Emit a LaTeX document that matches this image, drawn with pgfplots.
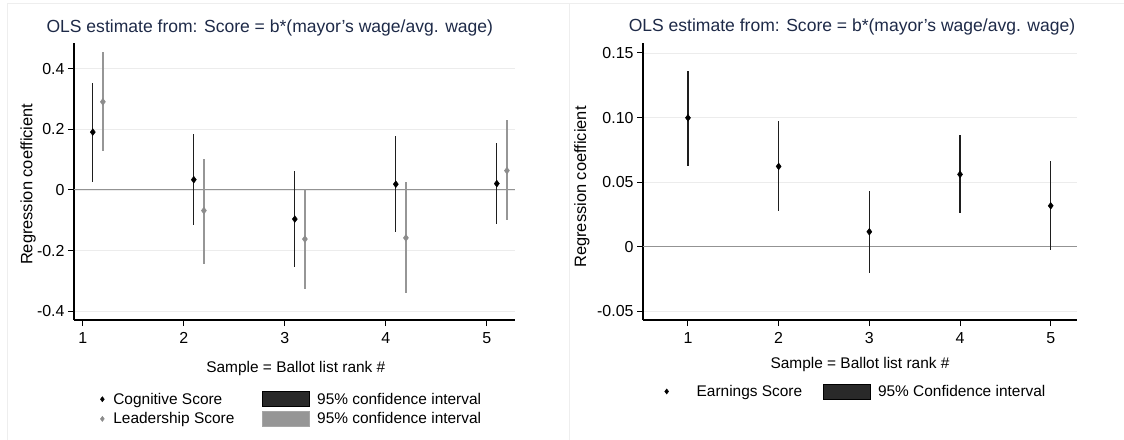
\documentclass[border=0pt]{standalone}
\usepackage{fontspec}
\setmainfont{Liberation Sans}
\usepackage{pgfplots}
\usepackage{pgfplotstable}
\pgfplotsset{compat=1.18}
\definecolor{titlecol}{RGB}{30,42,72}
\definecolor{cogci}{RGB}{30,30,30}
\definecolor{leadmk}{RGB}{140,140,140}
\definecolor{leadci}{RGB}{150,150,150}
\definecolor{gridc}{RGB}{236,236,236}
\definecolor{framec}{RGB}{238,238,238}

\pgfplotstableread{
x y lo hi
1.1 0.191 0.027 0.353
2.1 0.034 -0.116 0.184
3.1 -0.096 -0.253 0.064
4.1 0.019 -0.140 0.177
5.1 0.021 -0.111 0.154
}\cog
\pgfplotstableread{
x y lo hi
1.2 0.291 0.129 0.456
2.2 -0.068 -0.244 0.103
3.2 -0.162 -0.328 0.003
4.2 -0.158 -0.341 0.027
5.2 0.064 -0.099 0.231
}\lead
\pgfplotstableread{
x y lo hi
1 0.0998 0.0627 0.136
2 0.0622 0.0279 0.0973
3 0.0116 -0.0206 0.0433
4 0.056 0.0258 0.0865
5 0.0317 -0.0026 0.066
}\earn

\pgfplotsset{
  stata/.style={
    scale only axis,
    anchor=south west,
    axis x line*=bottom, axis y line*=left,
    axis line style={line width=1.2bp, black},
    tick align=outside, major tick length=6bp,
    tick style={line width=1bp, black},
    ymajorgrids, grid style={line width=0.8bp, gridc},
    tick label style={font=\fontsize{16}{19}\selectfont},
    x tick label style={yshift=-3bp},
    xtick={1,2,3,4,5}, xticklabels={1,2,3,4,5},
    title style={font=\fontsize{17.6}{21}\selectfont, text=titlecol, anchor=center, yshift=0pt},
    xlabel style={font=\fontsize{15.5}{18}\selectfont, anchor=center},
    ylabel style={font=\fontsize{16.5}{19}\selectfont, anchor=center},
    legend style={draw=none, fill=none, font=\fontsize{15.5}{18}\selectfont, row sep=3bp,
      /tikz/every odd column/.append style={column sep=5bp}},
    legend cell align=left,
    clip=false,
  },
  cipl/.style={only marks, mark=diamond*, mark size=3.4bp,
    error bars/.cd, y dir=both, y explicit, error mark=none},
}

\begin{document}
\begin{tikzpicture}
\path[use as bounding box, fill=white] (0,0) rectangle (1124bp,440bp);
\draw[framec, line width=1bp] (7bp,0) -- (7bp,436bp) -- (1124bp,436bp);
\draw[framec, line width=1bp] (569bp,0) -- (569bp,436bp);

\begin{axis}[stata,
  at={(74bp,120bp)}, width=441bp, height=277bp,
  xmin=0.914, xmax=5.28, ymin=-0.429, ymax=0.485,
  ytick={-0.4,-0.2,0,0.2,0.4}, yticklabels={-0.4,-0.2,0,0.2,0.4},
  title={OLS estimate from: Score = b*(mayor's wage/avg. wage)},
  title style={at={(axis description cs:0.444,1.032)}},
  xlabel={Sample = Ballot list rank \#},
  xlabel style={at={(axis description cs:0.503,-0.176)}},
  ylabel={Regression coefficient},
  ylabel style={at={(axis description cs:-0.104,0.49)}},
  legend columns=2,
  legend style={at={(axis description cs:0.048,-0.248)}, anchor=north west,
    /tikz/every even column/.append style={column sep=26bp}},
]
\addplot[forget plot, line width=1bp, gray!85] coordinates {(0.914,0) (5.28,0)};
\addplot[forget plot, black, cipl, error bar style={line width=1.3bp, cogci}]
  table[x=x, y=y, y error plus expr=\thisrow{hi}-\thisrow{y}, y error minus expr=\thisrow{y}-\thisrow{lo}] {\cog};
\addplot[forget plot, leadmk, cipl, error bar style={line width=1.3bp, leadci}]
  table[x=x, y=y, y error plus expr=\thisrow{hi}-\thisrow{y}, y error minus expr=\thisrow{y}-\thisrow{lo}] {\lead};
\addlegendimage{legend image code/.code={\path[draw=none,fill=none] (-4bp,0) -- (4bp,0); \draw[black, fill=black] plot[only marks, mark=diamond*, mark size=2.6bp] coordinates {(0bp,0bp)};}}
\addlegendentry{Cognitive Score}
\addlegendimage{legend image code/.code={\draw[line width=0.8bp, black, fill=cogci!95] (0bp,-7.5bp) rectangle (47bp,7.5bp);}}
\addlegendentry{95\% confidence interval}
\addlegendimage{legend image code/.code={\path[draw=none,fill=none] (-4bp,0) -- (4bp,0); \draw[leadmk, fill=leadmk] plot[only marks, mark=diamond*, mark size=2.6bp] coordinates {(0bp,0bp)};}}
\addlegendentry{Leadership Score}
\addlegendimage{legend image code/.code={\draw[line width=0.8bp, gray!70, fill=leadci] (0bp,-7.5bp) rectangle (47bp,7.5bp);}}
\addlegendentry{95\% confidence interval}
\end{axis}

\begin{axis}[stata,
  at={(643bp,120bp)}, width=434bp, height=277bp,
  xmin=0.504, xmax=5.29, ymin=-0.0567, ymax=0.1577,
  ytick={-0.05,0,0.05,0.10,0.15}, yticklabels={-0.05,0,0.05,0.10,0.15},
  title={OLS estimate from: Score = b*(mayor's wage/avg. wage)},
  title style={at={(axis description cs:0.4816,1.036)}},
  xlabel={Sample = Ballot list rank \#},
  xlabel style={at={(axis description cs:0.5,-0.159)}},
  ylabel={Regression coefficient},
  ylabel style={at={(axis description cs:-0.141,0.48)}},
  legend columns=2,
  legend style={at={(axis description cs:0.038,-0.22)}, anchor=north west,
    /tikz/every even column/.append style={column sep=19bp}},
]
\addplot[forget plot, line width=1bp, gray!85] coordinates {(0.504,0) (5.29,0)};
\addplot[forget plot, black, cipl, error bar style={line width=1.3bp, cogci}]
  table[x=x, y=y, y error plus expr=\thisrow{hi}-\thisrow{y}, y error minus expr=\thisrow{y}-\thisrow{lo}] {\earn};
\addlegendimage{legend image code/.code={\path[draw=none,fill=none] (-4bp,0) -- (23bp,0); \draw[black, fill=black] plot[only marks, mark=diamond*, mark size=2.6bp] coordinates {(0bp,0bp)};}}
\addlegendentry{Earnings Score}
\addlegendimage{legend image code/.code={\draw[line width=0.8bp, black, fill=cogci!95] (0bp,-7.5bp) rectangle (47bp,7.5bp);}}
\addlegendentry{95\% Confidence interval}
\end{axis}
\end{tikzpicture}
\end{document}
